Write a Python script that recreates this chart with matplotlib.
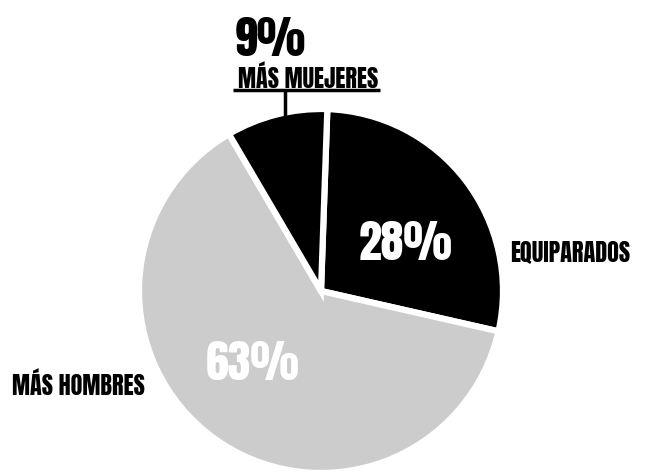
import matplotlib.pyplot as plt

# datos del gráfico
categorias = ["EQUIPARADOS", "MÁS HOMBRES", "MÁS MUEJERES"]
porcentajes = [28, 63, 9]
colores = ["#000000", "#cccccc", "#000000"]

plt.rcParams["font.family"] = ["Anton", "DejaVu Sans"]

W, H = 647, 475
fig = plt.figure(figsize=(W / 100, H / 100), dpi=100)
ax = fig.add_axes([0, 0, 1, 1])

ax.pie(porcentajes, colors=colores, startangle=88, counterclock=False,
       center=(321, H - 291), radius=182, frame=True,
       wedgeprops=dict(edgecolor="white", linewidth=4.5))

ax.set_xlim(0, W)
ax.set_ylim(0, H)
ax.set_aspect("equal")
ax.axis("off")

def txt(x, y, s, size, color="black"):
    ax.text(x, H - y, s, fontsize=size, color=color,
            ha="center", va="center_baseline")

# etiquetas
txt(406, 240, f"{porcentajes[0]}%", 33, "white")
txt(570, 251, categorias[0], 17.5)
txt(253, 361, f"{porcentajes[1]}%", 33, "white")
txt(78, 383, categorias[1], 17.5)
txt(270, 36, f"{porcentajes[2]}%", 33)
txt(308, 76, categorias[2], 17.5)

# línea guía de la porción pequeña
ax.plot([233, 380], [H - 90, H - 90], color="black", lw=2.5, solid_capstyle="butt")
ax.plot([285, 285], [H - 90, H - 116], color="black", lw=2.5, solid_capstyle="butt")

fig.savefig("out.png", dpi=100, facecolor="white")
